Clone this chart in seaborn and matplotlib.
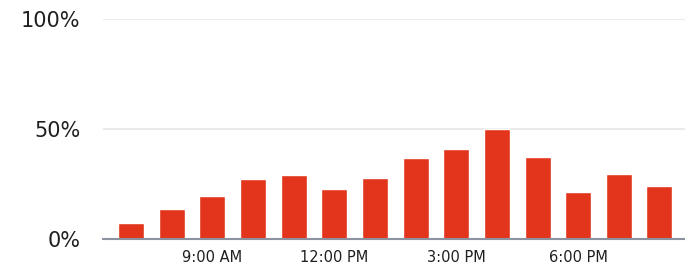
import matplotlib
matplotlib.use("Agg")
import matplotlib.pyplot as plt
import seaborn as sns
import pandas as pd
from matplotlib.ticker import FuncFormatter

# hourly share (%), 7:00 AM .. 8:00 PM
HOURS = [
    "7:00 AM", "8:00 AM", "9:00 AM", "10:00 AM", "11:00 AM", "12:00 PM",
    "1:00 PM", "2:00 PM", "3:00 PM", "4:00 PM", "5:00 PM", "6:00 PM",
    "7:00 PM", "8:00 PM",
]
SHARE = [7.4, 13.9, 19.8, 27.4, 29.2, 23.0, 27.6, 37.0, 40.8, 50.0, 37.5, 21.5, 29.5, 24.3]
SHOWN_TICKS = ["9:00 AM", "12:00 PM", "3:00 PM", "6:00 PM"]
Y_TICKS = [0, 50, 100]

BAR_COLOR = "#e2351b"

sns.set_style("white")
plt.rcParams["font.family"] = ["DejaVu Sans"]

df = pd.DataFrame({"hour": HOURS, "share": SHARE})

fig = plt.figure(figsize=(6.85, 2.67), dpi=100)
ax = fig.add_axes([0.150, 0.104, 0.850, 0.825])

sns.barplot(data=df, x="hour", y="share", color=BAR_COLOR, width=0.64,
            saturation=1, ax=ax, zorder=3)

ax.set_ylim(0, 100)
ax.set_xlim(-0.70, len(HOURS) - 0.37)
ax.set_yticks(Y_TICKS)
ax.yaxis.set_major_formatter(FuncFormatter(lambda v, _: f"{v:.0f}%"))
ax.grid(axis="y", color="#e6e6e6", linewidth=1.2, zorder=0)

ticks = [HOURS.index(h) for h in SHOWN_TICKS]
ax.set_xticks(ticks)
ax.set_xticklabels(SHOWN_TICKS)

ax.tick_params(axis="y", length=0, pad=16, labelsize=15, labelcolor="#1f1f1f")
ax.tick_params(axis="x", length=0, pad=8, labelsize=10.5, labelcolor="#1f1f1f")
ax.set_xlabel("")
ax.set_ylabel("")

for side in ["top", "right", "left"]:
    ax.spines[side].set_visible(False)
ax.spines["bottom"].set_color("#8c93a0")
ax.spines["bottom"].set_linewidth(1.5)
ax.spines["bottom"].set_zorder(4)

fig.savefig("out.png", dpi=100)
